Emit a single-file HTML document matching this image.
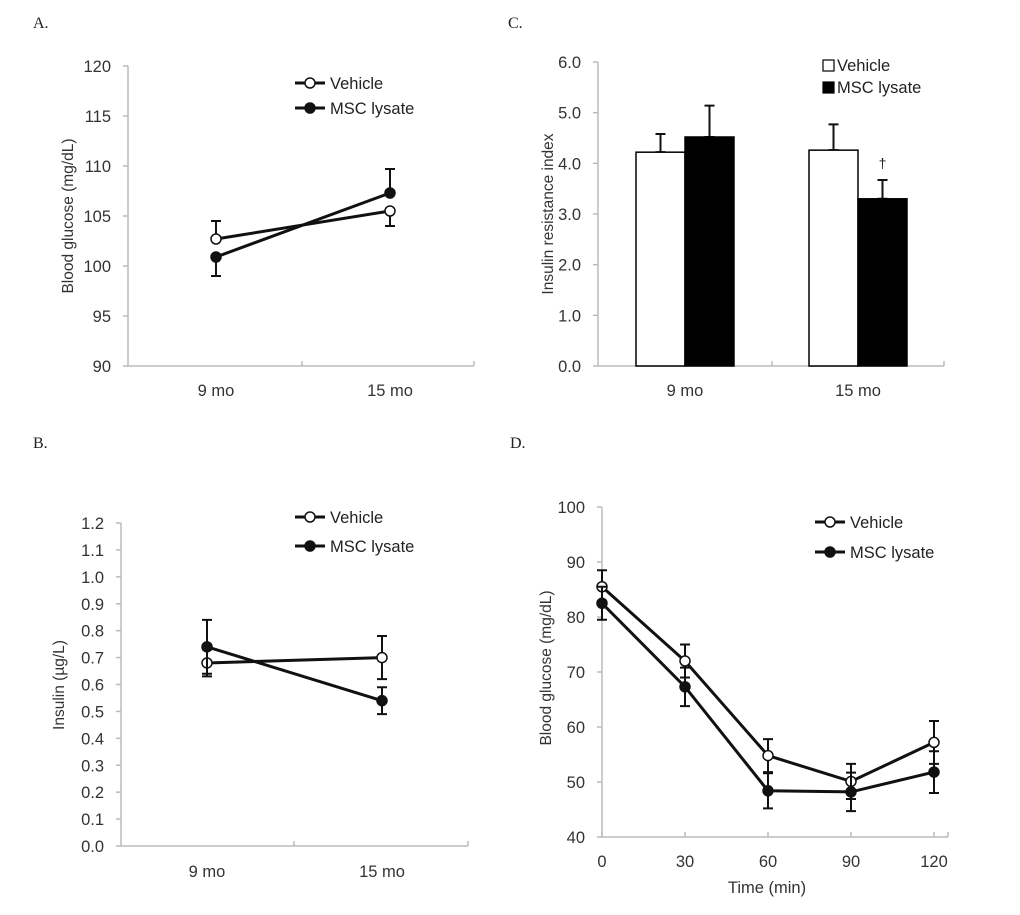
<!DOCTYPE html>
<html><head><meta charset="utf-8"><style>
html,body{margin:0;padding:0;background:#fff;}
svg{display:block;font-family:"Liberation Sans",sans-serif;}
</style></head><body>
<svg id="fig" width="1020" height="915"></svg>
<script>
// Panel A data
const aCats = ["9 mo","15 mo"];
const aVehicle = [102.7,105.5];
const aVehicleErr = [1.8,1.5];
const aMsc = [100.9,107.3];
const aMscErr = [1.9,2.4];
const aTicks = [90,95,100,105,110,115,120];
// Panel B data
const bCats = ["9 mo","15 mo"];
const bVehicle = [0.68,0.70];
const bVehicleErr = [0.05,0.08];
const bMsc = [0.74,0.54];
const bMscErr = [0.10,0.05];
const bTicks = [0.0,0.1,0.2,0.3,0.4,0.5,0.6,0.7,0.8,0.9,1.0,1.1,1.2];
// Panel C data
const cCats = ["9 mo","15 mo"];
const cVehicle = [4.22,4.26];
const cVehicleErr = [0.36,0.51];
const cMsc = [4.52,3.30];
const cMscErr = [0.62,0.37];
const cTicks = [0,1,2,3,4,5,6];
// Panel D data
const dTimes = [0,30,60,90,120];
const dVehicle = [85.5,72.0,54.8,50.1,57.2];
const dVehicleErr = [3.0,3.0,3.0,3.2,3.9];
const dMsc = [82.5,67.3,48.4,48.2,51.8];
const dMscErr = [3.0,3.5,3.2,3.5,3.8];
const dTicks = [40,50,60,70,80,90,100];

const svg = document.getElementById('fig');
const NS = 'http://www.w3.org/2000/svg';
const FS = 16.5;
function el(tag, attrs, parent){
  const e = document.createElementNS(NS, tag);
  for (const k in attrs) e.setAttribute(k, attrs[k]);
  (parent||svg).appendChild(e);
  return e;
}
function txt(s, attrs, parent){ const t = el('text', attrs, parent); t.textContent = s; return t; }

function panelLabel(s,x,y){
  const t = txt(s,{x:x,y:y,'font-family':'"Liberation Serif",serif','font-size':16,fill:'#222'});
  
  
}

function axes(g, x0, x1, yTop, yBot, ticks, ymin, ymax, fmt, midTicks){
  const ys = v => yBot - (v-ymin)/(ymax-ymin)*(yBot-yTop);
  const ax = el('g',{},g);
  
  
  el('line',{x1:x0,y1:yTop,x2:x0,y2:yBot,stroke:'#bbb','stroke-width':1.5},ax);
  el('line',{x1:x0,y1:yBot,x2:x1,y2:yBot,stroke:'#bbb','stroke-width':1.5},ax);
  el('line',{x1:x1,y1:yBot,x2:x1,y2:yBot-5,stroke:'#bbb','stroke-width':1.5},ax);
  ticks.forEach(v=>{
    el('line',{x1:x0-5,y1:ys(v),x2:x0,y2:ys(v),stroke:'#bbb','stroke-width':1.5},ax);
    const t = txt(fmt(v),{x:x0-17,y:ys(v)+6,'text-anchor':'end','font-size':FS,fill:'#333'},ax);
    
    
  });
  (midTicks||[]).forEach(mx=>{
    el('line',{x1:mx,y1:yBot,x2:mx,y2:yBot-5,stroke:'#bbb','stroke-width':1.5},ax);
  });
  return ys;
}
function yTitle(g,s,x,y){
  const t = txt(s,{x:0,y:0,transform:`translate(${x},${y}) rotate(-90)`,'text-anchor':'middle','font-size':15.5,fill:'#333'},g);
  
  
}
function xLabel(g,s,x,y,name){
  const t = txt(s,{x:x,y:y,'text-anchor':'middle','font-size':FS,fill:'#333'},g);
  
  
}
function errBar(g,x,y1,y2){
  const e = el('path',{d:`M${x},${y1}V${y2}M${x-5},${y1}H${x+5}M${x-5},${y2}H${x+5}`,stroke:'#111','stroke-width':2,fill:'none'},g);
  
  
}
// other: the other series values, used to draw only the outward error half (null = full)
function series(g, xs, vals, errs, ys, filled, name, other){
  const sg = el('g',{},g);
  
  
  vals.forEach((v,i)=>{
    let up = v+errs[i], dn = v-errs[i];
    if (other){ if (v >= other[i]) dn = v; else up = v; }
    errBar(sg, xs[i], ys(up), ys(dn));
  });
  const pts = vals.map((v,i)=>xs[i]+','+ys(v)).join(' ');
  const pl = el('polyline',{points:pts,fill:'none',stroke:'#111','stroke-width':3},sg);
  
  
  vals.forEach((v,i)=>{
    const c = el('circle',{cx:xs[i],cy:ys(v),r:5,fill:filled?'#111':'#fff',stroke:'#111','stroke-width':1.5},sg);
    
    
  });
}
function lineLegend(g,x,y1,y2){
  [[y1,'Vehicle',false],[y2,'MSC lysate',true]].forEach(([y,s,f])=>{
    const lg = el('g',{},g);
    
    
    el('line',{x1:x,y1:y,x2:x+30,y2:y,stroke:'#111','stroke-width':3},lg);
    el('circle',{cx:x+15,cy:y,r:5,fill:f?'#111':'#fff',stroke:'#111','stroke-width':1.5},lg);
    txt(s,{x:x+35,y:y+6,'font-size':FS,fill:'#222'},lg);
  });
}

// ---------- Panel A ----------
panelLabel('A.',33,28);
(function(){
  const g = el('g',{});  
  const ys = axes(g,128,474,66,366,aTicks,90,120,v=>String(v),[302]);
  const xs = [216,390];
  aCats.forEach((c,i)=>xLabel(g,c,xs[i],396));
  yTitle(g,'Blood glucose (mg/dL)',73,216);
  series(g,xs,aVehicle,aVehicleErr,ys,false,'vehicle-series',aMsc);
  series(g,xs,aMsc,aMscErr,ys,true,'msc-lysate-series',aVehicle);
  lineLegend(g,295,83,108);
})();

// ---------- Panel B ----------
panelLabel('B.',33,448);
(function(){
  const g = el('g',{});  
  const ys = axes(g,121,468,523,846,bTicks,0,1.2,v=>v.toFixed(1),[294]);
  const xs = [207,382];
  bCats.forEach((c,i)=>xLabel(g,c,xs[i],877));
  yTitle(g,'Insulin (µg/L)',64,685);
  series(g,xs,bVehicle,bVehicleErr,ys,false,'vehicle-series',null);
  series(g,xs,bMsc,bMscErr,ys,true,'msc-lysate-series',null);
  lineLegend(g,295,517,546);
})();

// ---------- Panel C ----------
panelLabel('C.',508,28);
(function(){
  const g = el('g',{});  
  const ys = axes(g,598,944,62,366,cTicks,0,6,v=>v.toFixed(1),[772]);
  const centers = [685,858];
  const bw = 49;
  cCats.forEach((c,i)=>xLabel(g,c,centers[i],396));
  yTitle(g,'Insulin resistance index',553,214);
  [[cVehicle,cVehicleErr,'#fff','vehicle-bar',-bw],[cMsc,cMscErr,'#000','msc-lysate-bar',0]].forEach(([vals,errs,fill,name,off])=>{
    vals.forEach((v,i)=>{
      const x = centers[i]+off;
      errBar(g,x+bw/2,ys(v+errs[i]),ys(v));
      const r = el('rect',{x:x,y:ys(v),width:bw,height:ys(0)-ys(v),fill:fill,stroke:'#000','stroke-width':1.5},g);
      
      
    });
  });
  const d = txt('†',{x:centers[1]+bw/2,y:ys(cMsc[1]+cMscErr[1])-12,'text-anchor':'middle','font-size':14,fill:'#222'},g);
  
  
  [[65,'Vehicle','#fff'],[87,'MSC lysate','#000']].forEach(([y,s,f])=>{
    const lg = el('g',{},g);
    
    
    el('rect',{x:823,y:y-5,width:11,height:11,fill:f,stroke:'#000','stroke-width':1.2},lg);
    txt(s,{x:837,y:y+6,'font-size':FS,fill:'#222'},lg);
  });
})();

// ---------- Panel D ----------
panelLabel('D.',510,448);
(function(){
  const g = el('g',{});  
  const ys = axes(g,602,948,507,837,dTicks,40,100,v=>String(v),[]);
  const xsc = t => 602 + t/120*(934-602);
  dTimes.forEach(t=>{
    el('line',{x1:xsc(t),y1:837,x2:xsc(t),y2:832,stroke:'#bbb','stroke-width':1.5},g);
    xLabel(g,String(t),xsc(t),867);
  });
  xLabel(g,'Time (min)',767,893,'x-axis-title');
  yTitle(g,'Blood glucose (mg/dL)',551,668);
  const xs = dTimes.map(xsc);
  series(g,xs,dVehicle,dVehicleErr,ys,false,'vehicle-series',null);
  series(g,xs,dMsc,dMscErr,ys,true,'msc-lysate-series',null);
  lineLegend(g,815,522,552);
})();
</script>
</body></html>
